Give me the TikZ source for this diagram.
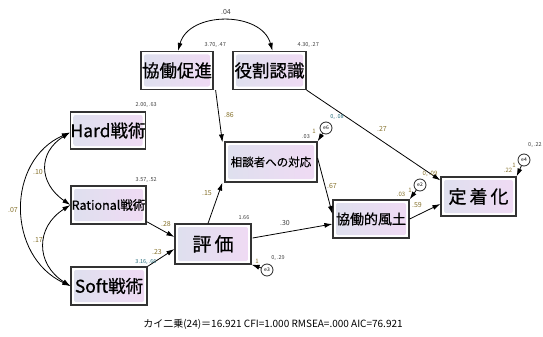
\documentclass[tikz,border=0pt]{standalone}
\usepackage{fontspec}
\setmainfont{Noto Sans CJK JP}
\newfontfamily\boxfont{Noto Sans CJK JP}[FakeBold=0.7]
\usetikzlibrary{arrows.meta,calc}
\definecolor{coef}{RGB}{135,115,45}
\definecolor{tealc}{RGB}{40,110,125}
\definecolor{shL}{RGB}{222,224,238}
\definecolor{shR}{RGB}{240,218,244}
\begin{document}
\begin{tikzpicture}[x=1pt,y=-1pt,
  var/.style={draw=black!80, line width=1.2pt, fill=white, inner sep=0pt,
    path picture={\shade[left color=shL,right color=shR,rounded corners=2pt]
      ([shift={(3pt,-3pt)}]path picture bounding box.north west) rectangle
      ([shift={(-3pt,3pt)}]path picture bounding box.south east);}},
  errc/.style={circle, draw=black!85, line width=0.8pt, minimum size=12pt, inner sep=0pt,
    fill=white, font=\fontsize{5}{5}\selectfont},
  arr/.style={-{Latex[length=8pt,width=5pt]}, line width=0.8pt},
  biarr/.style={{Latex[length=8pt,width=5pt]}-{Latex[length=8pt,width=5pt]}, line width=0.8pt},
  lab/.style={font=\fontsize{7}{7}\selectfont, text=coef, inner sep=0pt},
  mv/.style={font=\fontsize{5.5}{5.5}\selectfont, text=black!75, inner sep=0pt},
  tv/.style={font=\fontsize{5.5}{5.5}\selectfont, text=tealc, inner sep=0pt}]
\useasboundingbox[fill=white] (0,0) rectangle (543,337);

% observed variables
\node[var, minimum width=72pt, minimum height=38pt, font=\boxfont\fontsize{17.5}{17.5}\selectfont] (kyo) at (177,70.5) {協働促進};
\node[var, minimum width=73pt, minimum height=38pt, font=\boxfont\fontsize{17.5}{17.5}\selectfont] (yak) at (269.5,70.5) {役割認識};
\node[var, minimum width=74pt, minimum height=37pt, font=\boxfont\fontsize{17.5}{17.5}\selectfont] (hard) at (108,130.5) {Hard戦術};
\node[var, minimum width=75pt, minimum height=38pt, font=\boxfont\fontsize{12.5}{12.5}\selectfont] (rat) at (108.5,205) {Rational戦術};
\node[var, minimum width=76pt, minimum height=38pt, font=\boxfont\fontsize{17.5}{17.5}\selectfont] (soft) at (109,286) {Soft戦術};
\node[var, minimum width=76pt, minimum height=40pt, font=\boxfont\fontsize{19}{19}\selectfont] (hyo) at (213,244) {評\,価};
\node[var, minimum width=92pt, minimum height=40pt, font=\boxfont\fontsize{11.5}{11.5}\selectfont] (sod) at (271,162) {相談者への対応};
\node[var, minimum width=76pt, minimum height=38pt, font=\boxfont\fontsize{14}{14}\selectfont] (fud) at (371,219) {協働的風土};
\node[var, minimum width=75pt, minimum height=39pt, font=\boxfont\fontsize{18}{18}\selectfont] (tei) at (478.5,196.5) {定\,着\,化};

% error variables
\node[errc] (e6) at (326,128) {e6};
\node[errc] (e2) at (420,185) {e2};
\node[errc] (e4) at (524,160) {e4};
\node[errc] (e3) at (267,270) {e3};

% covariances
\draw[biarr] ($(kyo.north)+(1,0)$) .. controls ($(kyo.north)+(12,-40)$) and ($(yak.north)+(-8,-40)$) .. ($(yak.north)+(3,0)$);
\draw[biarr] ($(hard.west)+(0,2)$) .. controls ($(hard.west)+(-32,22)$) and ($(rat.west)+(-32,-22)$) .. (rat.west);
\draw[biarr] (rat.west) .. controls ($(rat.west)+(-35,22)$) and ($(soft.west)+(-35,-22)$) .. (soft.west);
\draw[biarr] ($(hard.west)+(0,2)$) .. controls ($(hard.west)+(-64,30)$) and ($(soft.west)+(-64,-30)$) .. (soft.west);

% paths
\draw[arr] ($(kyo.south east)+(2,0)$) -- ($(sod.north west)+(-2,1)$);
\draw[arr] ($(yak.south east)+(0,0)$) -- ($(tei.north west)+(0,4)$);
\draw[arr] ($(rat.south east)+(0,-3)$) -- ($(hyo.west)+(0,-7)$);
\draw[arr] (soft.north east) -- ($(hyo.west)+(0,5)$);
\draw[arr] ($(hyo.north)+(-5,0)$) -- ($(sod.south west)+(-2,0)$);
\draw[arr] ($(hyo.east)+(1,-6)$) -- ($(fud.west)+(0,5)$);
\draw[arr] ($(sod.east)+(0,-4)$) -- ($(fud.west)+(0,-5)$);
\draw[arr] ($(fud.east)+(0,0)$) -- ($(tei.west)+(0,7.5)$);
\draw[arr] (e6) -- (sod.north east);
\draw[arr] (e2) -- (fud.north east);
\draw[arr] (e4) -- (tei.north east);
\draw[arr] (e3) -- (hyo.south east);

% coefficient labels
\node[lab, text=black!75] (l04) at (226,12) {.04};
\node[lab] (l86) at (229,115) {.86};
\node[lab] (l27) at (382,129) {.27};
\node[lab] (l10) at (38,172) {.10};
\node[lab] (l07) at (13,210) {.07};
\node[lab] (l17) at (38,240) {.17};
\node[lab] (l28) at (166,224) {.28};
\node[lab] (l23) at (157,252) {.23};
\node[lab] (l15) at (207,193) {.15};
\node[lab, text=black!75] (l30) at (285,223) {.30};
\node[lab] (l67) at (332,186) {.67};
\node[lab] (l59) at (417,205) {.59};

% means / variances
\node[mv, anchor=east] (mk) at (226,45) {3.70, .47};
\node[mv, anchor=east] (my) at (319,45) {4.30, .27};
\node[mv, anchor=east] (mh) at (157,105) {2.00, .63};
\node[mv, anchor=east] (mr) at (157,180) {3.57, .52};
\node[tv] (ms) at (146,262) {3.16, .66};
\node[mv] (mhy) at (244,218) {1.66};
\node[mv] (me3) at (278,258) {0, .29};
\node[lab, font=\fontsize{6}{6}\selectfont] (o3) at (257,261) {1};
\node[mv] (r6) at (306,137) {.03};
\node[lab, font=\fontsize{6}{6}\selectfont] (o6) at (314,131) {1};
\node[tv] (me6) at (337,117) {0, .08};
\node[lab, font=\fontsize{6}{6}\selectfont] (r2) at (401,194) {.03};
\node[lab, font=\fontsize{6}{6}\selectfont] (o2) at (410,190) {1};
\node[lab, font=\fontsize{6}{6}\selectfont] (me2) at (430,174) {0, .09};
\node[lab, font=\fontsize{6}{6}\selectfont] (r4) at (508,170) {.22};
\node[lab, font=\fontsize{6}{6}\selectfont] (o4) at (514,165) {1};
\node[mv, anchor=west] (me4) at (528,145) {0, .22};

% fit footer
\node[font=\fontsize{10}{10}\selectfont, inner sep=0pt] (fit) at (273,324) {カイ二乗(24)＝16.921 CFI=1.000 RMSEA=.000 AIC=76.921};
\end{tikzpicture}
\end{document}
